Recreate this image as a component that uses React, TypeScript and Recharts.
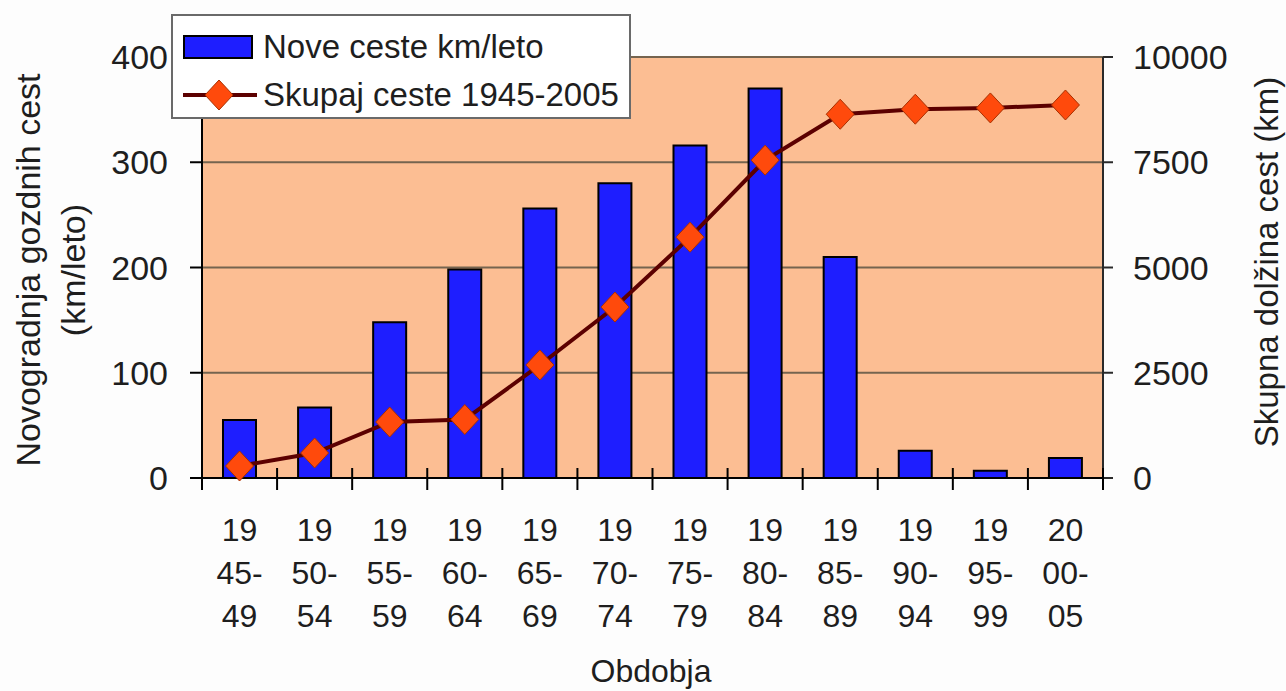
import React from 'react';
import { ComposedChart, Bar, Line, XAxis, YAxis, CartesianGrid, Label } from 'recharts';

const categories = ['1945-49', '1950-54', '1955-59', '1960-64', '1965-69', '1970-74', '1975-79', '1980-84', '1985-89', '1990-94', '1995-99', '2000-05'];
const newRoads = [55, 67, 148, 198, 256, 280, 316, 370, 210, 26, 7, 19];
const totalRoads = [285, 594, 1330, 1390, 2685, 4060, 5720, 7550, 8640, 8760, 8790, 8860];
const leftTicks = [0, 100, 200, 300, 400];
const rightTicks = [0, 2500, 5000, 7500, 10000];

const W = 1286;
const H = 691;
const LEFT_W = 202;
const RIGHT_W = 183;
const TOP = 57;
const X_AXIS_H = 213;
const PLOT_BOTTOM = H - X_AXIS_H;
const PLOT_W = W - LEFT_W - RIGHT_W;
const FONT = '"Liberation Sans", Arial, sans-serif';
const TEXT = '#1e1e1e';

const data = categories.map((c, i) => ({ period: c, nove: newRoads[i], skupaj: totalRoads[i] }));

const XTick = (props: any) => {
  const { x, payload, index } = props;
  const step = PLOT_W / categories.length;
  const v: string = payload.value;
  const lines = [v.slice(0, 2), v.slice(2, 5), v.slice(5)];
  return (
    <g>
      <line x1={x - step / 2} x2={x - step / 2} y1={PLOT_BOTTOM - 10} y2={PLOT_BOTTOM + 12} stroke="#000" strokeWidth={2} />
      {index === categories.length - 1 && (
        <line x1={x + step / 2} x2={x + step / 2} y1={PLOT_BOTTOM - 10} y2={PLOT_BOTTOM + 12} stroke="#000" strokeWidth={2} />
      )}
      {lines.map((l, i) => (
        <text key={i} x={x} y={PLOT_BOTTOM + 63 + i * 43} textAnchor="middle" fontSize={32} fontFamily={FONT} fill={TEXT}>
          {l}
        </text>
      ))}
    </g>
  );
};

const Diamond = (props: any) => {
  const { cx, cy } = props;
  if (cx == null || cy == null) return null;
  return (
    <polygon
      points={`${cx},${cy - 15} ${cx + 14},${cy} ${cx},${cy + 15} ${cx - 14},${cy}`}
      fill="#FF4A0C"
      stroke="#A83000"
      strokeWidth={1}
    />
  );
};

const LeftTitle = () => (
  <g fontFamily={FONT} fontSize={34} fill={TEXT} textAnchor="middle">
    <text x={40} y={270} transform="rotate(-90 40 270)">Novogradnja gozdnih cest</text>
    <text x={85} y={270} transform="rotate(-90 85 270)">(km/leto)</text>
  </g>
);

const RightTitle = () => (
  <text x={1278} y={262} transform="rotate(-90 1278 262)" fontFamily={FONT} fontSize={33} fill={TEXT} textAnchor="middle">
    Skupna dolžina cest (km)
  </text>
);

const XTitle = () => (
  <text x={651} y={682} fontFamily={FONT} fontSize={32} fill={TEXT} textAnchor="middle">
    Obdobja
  </text>
);

function ChartLegend() {
  return (
    <div
      style={{
        position: 'absolute',
        left: 171,
        top: 14,
        width: 456,
        height: 101,
        background: '#fff',
        border: '2px solid #6a6a6a',
        fontFamily: FONT,
        fontSize: 33,
        color: TEXT,
      }}
    >
      <div style={{ position: 'absolute', left: 10, top: 14, display: 'flex', alignItems: 'center' }}>
        <svg width={74} height={26}>
          <rect x={1} y={2} width={68} height={22} fill="#1E1EFF" stroke="#000" strokeWidth={2} />
        </svg>
        <span style={{ marginLeft: 6, lineHeight: '34px' }}>Nove ceste km/leto</span>
      </div>
      <div style={{ position: 'absolute', left: 10, top: 62, display: 'flex', alignItems: 'center' }}>
        <svg width={74} height={34}>
          <line x1={0} x2={74} y1={17} y2={17} stroke="#5C0000" strokeWidth={4} />
          <polygon points="36,2 50,17 36,32 22,17" fill="#FF4A0C" stroke="#A83000" strokeWidth={1} />
        </svg>
        <span style={{ marginLeft: 6, lineHeight: '34px' }}>Skupaj ceste 1945-2005</span>
      </div>
    </div>
  );
}

export default function App() {
  return (
    <div style={{ position: 'absolute', left: 0, top: 0, width: W, height: H, background: '#fdfdfd' }}>
      <ComposedChart width={W} height={H} data={data} margin={{ top: TOP, right: 0, bottom: 0, left: 0 }} barCategoryGap={0}>
        <CartesianGrid yAxisId="left" vertical={false} fill="#FCBE93" stroke="#75644f" strokeWidth={2} />
        <XAxis
          dataKey="period"
          height={X_AXIS_H}
          interval={0}
          tickLine={false}
          tick={<XTick />}
          axisLine={{ stroke: '#000', strokeWidth: 2 }}
        >
          <Label content={<XTitle />} />
        </XAxis>
        <YAxis
          yAxisId="left"
          width={LEFT_W}
          domain={[0, 400]}
          ticks={leftTicks}
          tickSize={12}
          tickMargin={22}
          tick={{ fontSize: 34, fontFamily: FONT, fill: TEXT }}
          axisLine={{ stroke: '#000', strokeWidth: 2 }}
          tickLine={{ stroke: '#000', strokeWidth: 2 }}
        >
          <Label content={<LeftTitle />} />
        </YAxis>
        <YAxis
          yAxisId="right"
          orientation="right"
          width={RIGHT_W}
          domain={[0, 10000]}
          ticks={rightTicks}
          tickSize={10}
          tickMargin={20}
          tick={{ fontSize: 34, fontFamily: FONT, fill: TEXT, textAnchor: 'start' }}
          axisLine={{ stroke: '#2a2a2a', strokeWidth: 2 }}
          tickLine={{ stroke: '#2a2a2a', strokeWidth: 2 }}
        >
          <Label content={<RightTitle />} />
        </YAxis>
        <Bar yAxisId="left" dataKey="nove" fill="#1E1EFF" stroke="#000" strokeWidth={2} barSize={33} isAnimationActive={false} />
        <Line
          yAxisId="right"
          type="linear"
          dataKey="skupaj"
          stroke="#5C0000"
          strokeWidth={4}
          dot={<Diamond />}
          activeDot={false}
          isAnimationActive={false}
        />
      </ComposedChart>
      <ChartLegend />
    </div>
  );
}
